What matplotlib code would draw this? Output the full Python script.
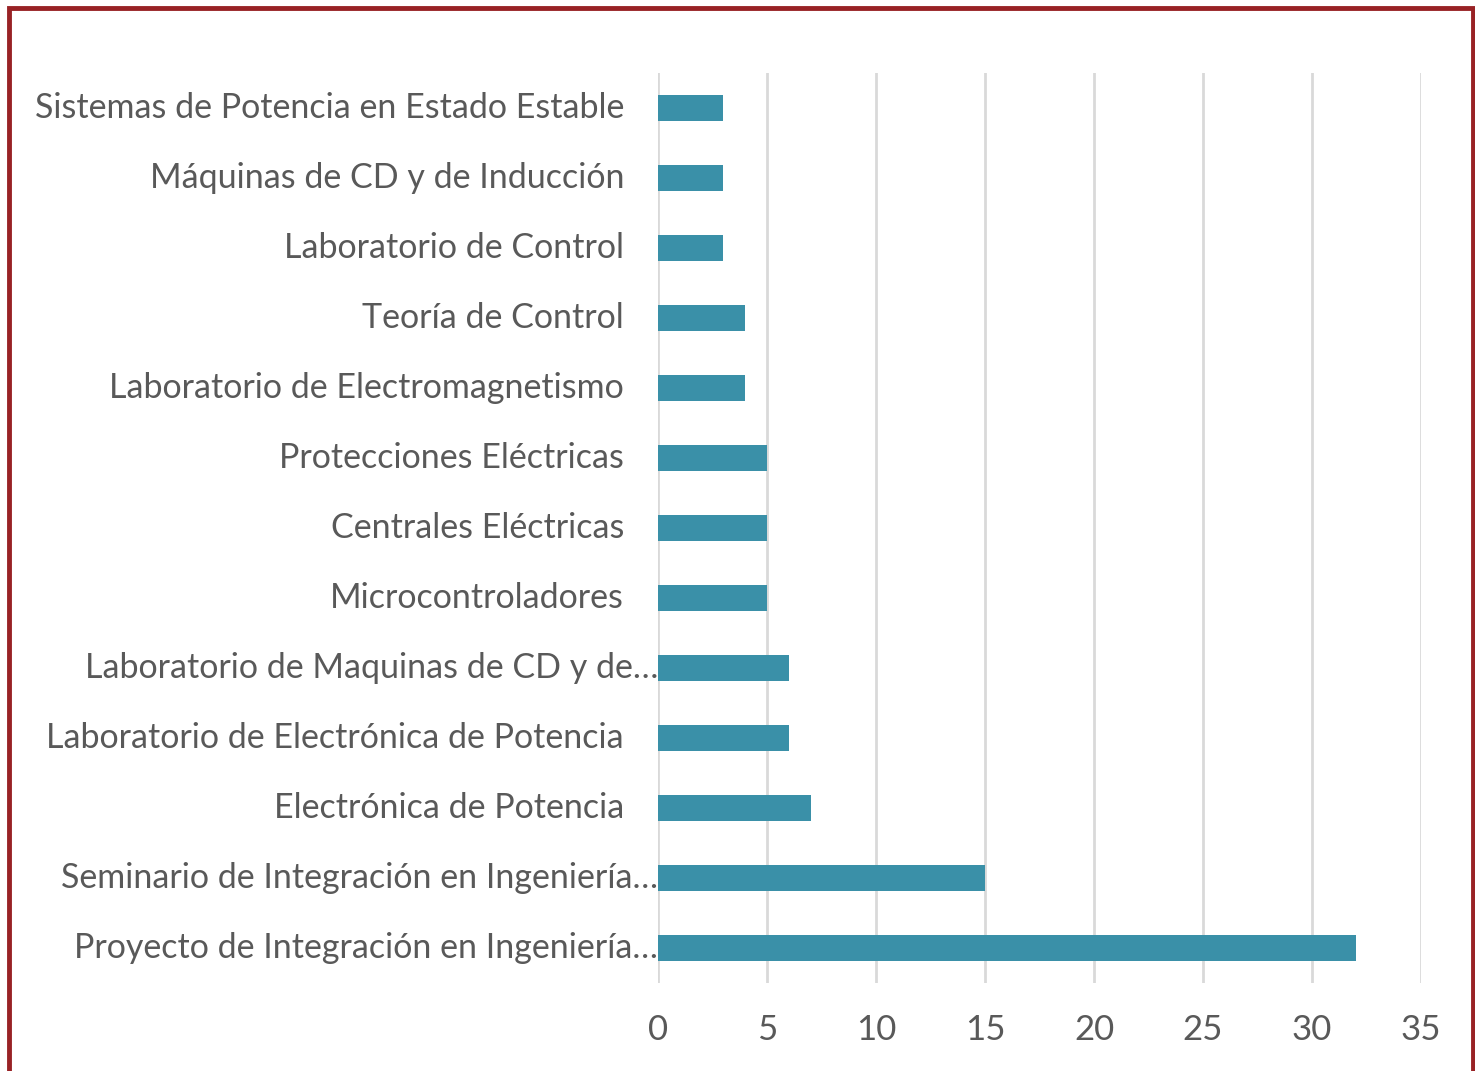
import matplotlib
matplotlib.use("Agg")
import matplotlib.pyplot as plt
from matplotlib.patches import Rectangle
from matplotlib.transforms import blended_transform_factory, ScaledTranslation

categories = [
    "Proyecto de Integración en Ingeniería…",
    "Seminario de Integración en Ingeniería…",
    "Electrónica de Potencia",
    "Laboratorio de Electrónica de Potencia",
    "Laboratorio de Maquinas de CD y de…",
    "Microcontroladores",
    "Centrales Eléctricas",
    "Protecciones Eléctricas",
    "Laboratorio de Electromagnetismo",
    "Teoría de Control",
    "Laboratorio de Control",
    "Máquinas de CD y de Inducción",
    "Sistemas de Potencia en Estado Estable",
]
values = [32, 15, 7, 6, 6, 5, 5, 5, 4, 4, 3, 3, 3]
truncated = [True, True, False, False, True, False, False, False, False, False, False, False, False]
xticks = [0, 5, 10, 15, 20, 25, 30, 35]

plt.rcParams['font.family'] = ['Lato', 'DejaVu Sans']
text_color = "#595959"

fig = plt.figure(figsize=(14.75, 10.71), dpi=100)
ax = fig.add_axes([658/1475, 1 - 983/1071, (1421-658)/1475, (983-73)/1071])

y = list(range(len(categories)))
ax.barh(y, values, height=0.36, color="#3A90A8", zorder=3)
ax.set_xlim(0, 35)
ax.set_ylim(-0.5, len(categories) - 0.5)
ax.set_xticks(xticks)
ax.set_xticklabels([str(t) for t in xticks], fontsize=25, color=text_color)
ax.tick_params(axis='x', length=0, pad=22.5)
ax.set_yticks(y)
ax.set_yticklabels([])
ax.tick_params(axis='y', length=0)
ax.grid(axis='x', color="#D9D9D9", linewidth=2, zorder=0)
for s in ax.spines.values():
    s.set_visible(False)

trans = blended_transform_factory(ax.transAxes, ax.transData)
for yi, lab, tr in zip(y, categories, truncated):
    off = 0 if tr else -34
    t = trans + ScaledTranslation(off / 100, 0, fig.dpi_scale_trans)
    ax.text(0, yi, lab, transform=t, ha='right', va='center', fontsize=24.5, color=text_color)

fig.patches.append(Rectangle((9/1475, -0.05), (1473-9)/1475, 1.05 - 8/1071,
                             transform=fig.transFigure, fill=False,
                             edgecolor="#982225", linewidth=3.5))

fig.savefig("out.png", dpi=100)
